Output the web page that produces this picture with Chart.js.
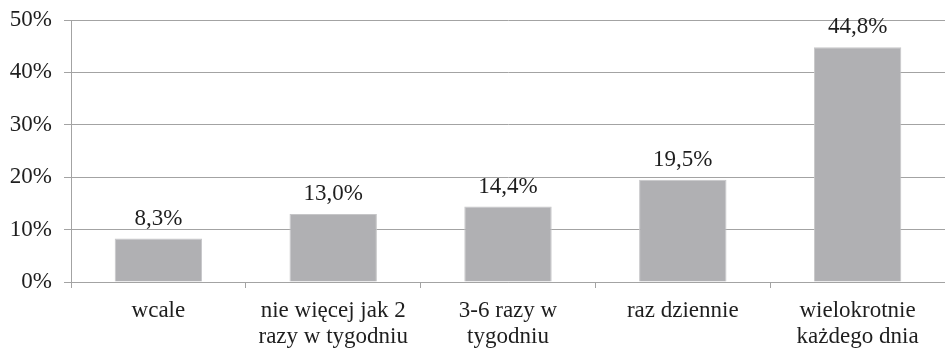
<!DOCTYPE html>
<html>
<head>
<meta charset="utf-8">
<script src="https://cdn.jsdelivr.net/npm/chart.js@4/dist/chart.umd.min.js"></script>
<style>
  html, body { margin: 0; padding: 0; background: #fff; }
  #wrap { width: 945px; height: 349px; position: relative; }
</style>
</head>
<body>
<div id="wrap"><canvas id="c"></canvas></div>
<script>
// Frequency categories (two-line labels) and their shares in percent
const categories = [
  ['wcale'],
  ['nie więcej jak 2', 'razy w tygodniu'],
  ['3-6 razy w', 'tygodniu'],
  ['raz dziennie'],
  ['wielokrotnie', 'każdego dnia']
];
const shares = [8.3, 13.0, 14.4, 19.5, 44.8];
const yTicks = [0, 10, 20, 30, 40, 50];

const FONT = '"Liberation Serif", "Times New Roman", serif';
const TEXT = '#1e1e1e';
const GRID = '#a3a3a3';

// Value labels above each bar, Polish decimal comma
const valueLabels = {
  id: 'valueLabels',
  afterDatasetsDraw(chart) {
    const ctx = chart.ctx;
    const meta = chart.getDatasetMeta(0);
    ctx.save();
    ctx.font = '23px ' + FONT;
    ctx.fillStyle = TEXT;
    ctx.textAlign = 'center';
    ctx.textBaseline = 'alphabetic';
    meta.data.forEach((bar, i) => {
      const txt = shares[i].toFixed(1).replace('.', ',') + '%';
      ctx.fillText(txt, bar.x, bar.y - 14);
    });
    ctx.restore();
  }
};

new Chart(document.getElementById('c'), {
  type: 'bar',
  data: {
    labels: categories,
    datasets: [{
      data: shares,
      backgroundColor: '#b0b0b3',
      borderColor: '#c6c6c8',
      borderWidth: 1,
      categoryPercentage: 1.0,
      barPercentage: 0.5
    }]
  },
  options: {
    responsive: true,
    maintainAspectRatio: false,
    animation: false,
    layout: { padding: { top: 20, right: 0, left: 0, bottom: 0 } },
    plugins: {
      legend: { display: false },
      tooltip: { enabled: false }
    },
    scales: {
      x: {
        grid: {
          display: true,
          drawOnChartArea: false,
          drawTicks: true,
          tickLength: 6,
          color: GRID,
          offset: true
        },
        border: { display: true, color: GRID, width: 1 },
        ticks: {
          color: TEXT,
          font: { family: FONT, size: 23, lineHeight: 1.13 },
          padding: 10,
          maxRotation: 0,
          autoSkip: false
        },
        afterFit(scale) { scale.height = 67; }
      },
      y: {
        min: 0,
        max: 50,
        afterBuildTicks(scale) { scale.ticks = yTicks.map(v => ({ value: v })); },
        grid: {
          color: GRID,
          lineWidth: 1,
          drawTicks: true,
          tickLength: 7
        },
        border: { display: true, color: GRID, width: 1 },
        ticks: {
          color: TEXT,
          // compact line height keeps the top label from pushing the plot down
          font: { family: FONT, size: 23, lineHeight: 0.6 },
          padding: 12,
          callback: v => v + '%'
        },
        afterFit(scale) { scale.width = 71; }
      }
    }
  },
  plugins: [valueLabels]
});
</script>
</body>
</html>
